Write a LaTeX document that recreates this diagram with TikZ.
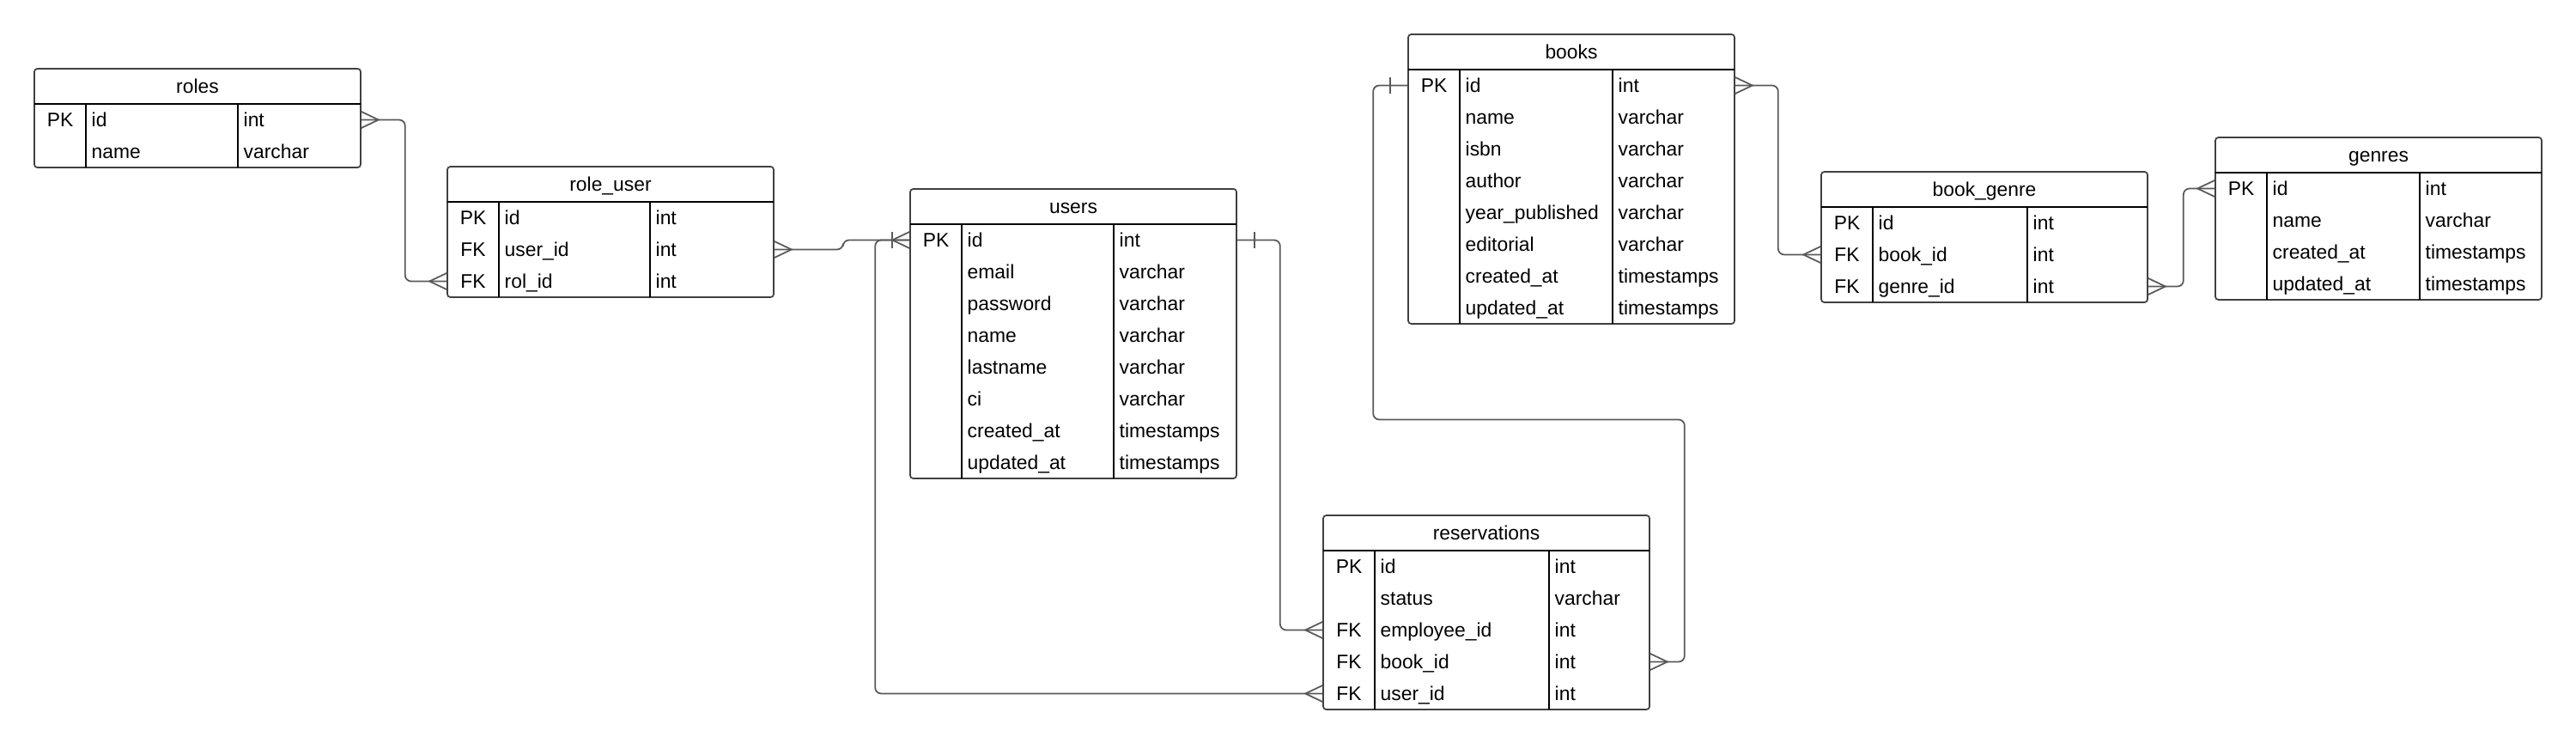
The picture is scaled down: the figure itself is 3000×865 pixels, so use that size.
\documentclass[tikz,border=0pt]{standalone}
\usepackage{fontspec}
\setmainfont{Liberation Sans}
\usetikzlibrary{fit,calc}

\newcommand{\erdtable}[7]{%
  \node[tablebox, fit={(#3,#4) (#3+380,{#4+41+37*#6})}] (#1) {};
  \node[titletext] (#1-title) at (#3+190,#4+28.5) {#2};
  \draw[tableline] (#3,#4+41) -- (#3+380,#4+41);
  \draw[tableline] (#3+60,#4+41) -- (#3+60,{#4+41+37*#6});
  \draw[tableline] (#5,#4+41) -- (#5,{#4+41+37*#6});
  \foreach \ky/\fd/\ty [count=\i] in {#7} {
    \node[rowslot] (#1-r\i) at (#3+190,{#4+22.5+37*\i}) {};
    \node[keytext] (#1-k\i) at (#3+30,{#4+30.5+37*\i}) {\ky};
    \node[fieldtext] (#1-f\i) at (#3+66,{#4+30.5+37*\i}) {\fd};
    \node[fieldtext] (#1-t\i) at (#5+6,{#4+30.5+37*\i}) {\ty};
  }
}

\begin{document}
\begin{tikzpicture}
  [x=0.01cm, y=-0.01cm,
   every node/.style={font=\fontsize{6.5}{8}\selectfont, inner sep=0},
   tablebox/.style={draw=black!75, line width=0.5pt, rounded corners=1pt, inner sep=0},
   tableline/.style={draw=black, line width=0.4pt},
   rowslot/.style={minimum width=3.8cm, minimum height=0.37cm},
   titletext/.style={anchor=base},
   keytext/.style={anchor=base},
   fieldtext/.style={anchor=base west},
   conn/.style={draw=black!65, line width=0.5pt, rounded corners=2pt},
   markline/.style={draw=black!65, line width=0.5pt},
   crowfoot/.pic={\draw[markline] (0,-9.5) -- (20,0) -- (0,9.5);},
   onebar/.pic={\draw[markline] (20,-9.5) -- (20,9.5);}]
  \useasboundingbox (0,0) rectangle (3000,865);

  \erdtable{roles}{roles}{40}{80}{277}{2}{PK/id/int, {}/name/varchar}
  \erdtable{roleuser}{role\_user}{521}{194}{757}{3}{PK/id/int, FK/user\_id/int, FK/rol\_id/int}
  \erdtable{users}{users}{1060}{220}{1297}{8}{PK/id/int, {}/email/varchar, {}/password/varchar, {}/name/varchar, {}/lastname/varchar, {}/ci/varchar, {}/created\_at/timestamps, {}/updated\_at/timestamps}
  \erdtable{books}{books}{1640}{40}{1878}{8}{PK/id/int, {}/name/varchar, {}/isbn/varchar, {}/author/varchar, {}/year\_published/varchar, {}/editorial/varchar, {}/created\_at/timestamps, {}/updated\_at/timestamps}
  \erdtable{bookgenre}{book\_genre}{2121}{200}{2361}{3}{PK/id/int, FK/book\_id/int, FK/genre\_id/int}
  \erdtable{genres}{genres}{2580}{160}{2818}{4}{PK/id/int, {}/name/varchar, {}/created\_at/timestamps, {}/updated\_at/timestamps}
  \erdtable{reservations}{reservations}{1541}{600}{1804}{5}{PK/id/int, {}/status/varchar, FK/employee\_id/int, FK/book\_id/int, FK/user\_id/int}

  \draw[conn] (roles-r1.east) -- ++(51,0) |- (roleuser-r3.west);
  \pic at (roles-r1.east) {crowfoot};
  \pic[xscale=-1] at (roleuser-r3.west) {crowfoot};

  \draw[conn] (roleuser-r2.east) -- ++(80,0) |- (users-r1.west);
  \pic at (roleuser-r2.east) {crowfoot};
  \pic[xscale=-1] at (users-r1.west) {crowfoot};
  \pic[xscale=-1] at (users-r1.west) {onebar};

  \draw[conn] (reservations-r5.west) -| ($(users-r1.west)+(-40,0)$) -- (users-r1.west);
  \pic[xscale=-1] at (reservations-r5.west) {crowfoot};

  \draw[conn] (users-r1.east) -- ++(50,0) |- (reservations-r3.west);
  \pic at (users-r1.east) {onebar};
  \pic[xscale=-1] at (reservations-r3.west) {crowfoot};

  \draw[conn] (books-r1.west) -- ++(-40,0) -- ++(0,389) -| ($(reservations-r4.east)+(40,0)$) -- (reservations-r4.east);
  \pic[xscale=-1] at (books-r1.west) {onebar};
  \pic at (reservations-r4.east) {crowfoot};

  \draw[conn] (books-r1.east) -- ++(50,0) |- (bookgenre-r2.west);
  \pic at (books-r1.east) {crowfoot};
  \pic[xscale=-1] at (bookgenre-r2.west) {crowfoot};

  \draw[conn] (bookgenre-r3.east) -- ++(41,0) |- (genres-r1.west);
  \pic at (bookgenre-r3.east) {crowfoot};
  \pic[xscale=-1] at (genres-r1.west) {crowfoot};
\end{tikzpicture}
\end{document}
